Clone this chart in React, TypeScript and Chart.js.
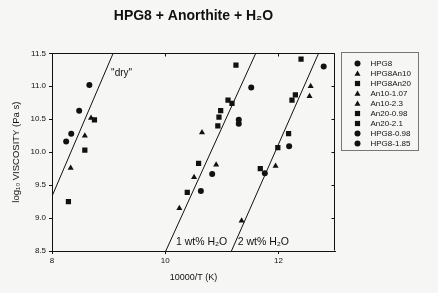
import React, { useEffect, useRef } from 'react';
import { Chart, registerables } from 'chart.js';

Chart.register(...registerables);

const FONT = "'Liberation Sans', Arial, Helvetica, sans-serif";

const TITLE = 'HPG8 + Anorthite + H₂O';
const X_TITLE = '10000/T (K)';
const Y_TITLE = 'log₁₀ VISCOSITY (Pa s)';

const SERIES_NAMES = ['HPG8', 'HPG8An10', 'HPG8An20', 'An10-1.07', 'An10-2.3', 'An20-0.98', 'An20-2.1', 'HPG8-0.98', 'HPG8-1.85'];
const SERIES_SHAPES = ['circle', 'triangle', 'rect', 'triangle', 'triangle', 'rect', 'rect', 'circle', 'circle'];

// dry
const HPG8_X = [8.25, 8.34, 8.48, 8.66];
const HPG8_Y = [10.16, 10.28, 10.63, 11.02];
const HPG8AN10_X = [8.33, 8.58, 8.69];
const HPG8AN10_Y = [9.76, 10.25, 10.52];
const HPG8AN20_X = [8.29, 8.58, 8.75];
const HPG8AN20_Y = [9.25, 10.03, 10.49];
// ~1 wt% H2O
const AN10_107_X = [10.25, 10.51, 10.65, 10.9];
const AN10_107_Y = [9.15, 9.62, 10.3, 9.81];
const AN20_098_X = [10.39, 10.59, 10.93, 10.95, 10.98, 11.11, 11.18, 11.25];
const AN20_098_Y = [9.39, 9.83, 10.4, 10.53, 10.63, 10.79, 10.74, 11.32];
const HPG8_098_X = [10.63, 10.83, 11.3, 11.3, 11.52];
const HPG8_098_Y = [9.41, 9.67, 10.49, 10.43, 10.98];
// ~2 wt% H2O
const AN10_23_X = [11.35, 11.95, 12.55, 12.57];
const AN10_23_Y = [8.96, 9.79, 10.85, 11.0];
const AN20_21_X = [11.68, 11.99, 12.18, 12.24, 12.3, 12.4];
const AN20_21_Y = [9.75, 10.07, 10.28, 10.79, 10.87, 11.41];
const HPG8_185_X = [11.76, 12.19, 12.8];
const HPG8_185_Y = [9.68, 10.09, 11.3];

const SERIES_X = [HPG8_X, HPG8AN10_X, HPG8AN20_X, AN10_107_X, AN10_23_X, AN20_098_X, AN20_21_X, HPG8_098_X, HPG8_185_X];
const SERIES_Y = [HPG8_Y, HPG8AN10_Y, HPG8AN20_Y, AN10_107_Y, AN10_23_Y, AN20_098_Y, AN20_21_Y, HPG8_098_Y, HPG8_185_Y];

// fitted lines
const DRY_LINE_X = [8.0, 9.08];
const DRY_LINE_Y = [9.33, 11.5];
const WT1_LINE_X = [10.01, 11.6];
const WT1_LINE_Y = [8.5, 11.5];
const WT2_LINE_X = [11.17, 12.71];
const WT2_LINE_Y = [8.5, 11.5];

// line labels (anchor in data units)
const LINE_LABELS = ['"dry"', '1 wt% H₂O', '2 wt% H₂O'];
const LINE_LABEL_X = [9.23, 10.19, 11.28];
const LINE_LABEL_Y = [11.19, 8.64, 8.64];
const LINE_LABEL_ALIGN: CanvasTextAlign[] = ['center', 'left', 'left'];

const X_MIN = 8, X_MAX = 13, X_STEP = 2;
const Y_MIN = 8.5, Y_MAX = 11.5, Y_STEP = 0.5;

const INK = '#111';

function drawShape(ctx: CanvasRenderingContext2D, shape: string, x: number, y: number) {
  ctx.beginPath();
  if (shape === 'circle') {
    ctx.arc(x, y, 3, 0, Math.PI * 2);
  } else if (shape === 'triangle') {
    const r = 3.5;
    for (let i = 0; i < 3; i++) {
      const a = (i * 2 * Math.PI) / 3;
      const px = x + Math.sin(a) * r;
      const py = y - Math.cos(a) * r + 0.6;
      if (i === 0) ctx.moveTo(px, py); else ctx.lineTo(px, py);
    }
    ctx.closePath();
  } else {
    ctx.rect(x - 2.6, y - 2.6, 5.2, 5.2);
  }
  ctx.fill();
}

const decorPlugin = {
  id: 'decor',
  beforeDraw(chart: any) {
    const { ctx, width, height } = chart;
    ctx.save();
    ctx.fillStyle = '#f6f6f5';
    ctx.fillRect(0, 0, width, height);
    ctx.restore();
  },
  afterDatasetsDraw(chart: any) {
    const { ctx, chartArea: a, scales } = chart;
    ctx.save();
    ctx.strokeStyle = INK;
    ctx.lineWidth = 1;
    const l = Math.round(a.left) + 0.5, r = Math.round(a.right) - 0.5;
    const t = Math.round(a.top) + 0.5, b = Math.round(a.bottom) - 0.5;
    ctx.beginPath();
    ctx.moveTo(l, t); ctx.lineTo(r, t); ctx.lineTo(r, b);
    ctx.stroke();
    // inward ticks on right and top
    ctx.beginPath();
    scales.y.ticks.forEach((tk: any) => {
      const py = Math.round(scales.y.getPixelForValue(tk.value)) + 0.5;
      ctx.moveTo(r, py); ctx.lineTo(r - 3, py);
    });
    scales.x.ticks.forEach((tk: any) => {
      const px = Math.round(scales.x.getPixelForValue(tk.value)) + 0.5;
      ctx.moveTo(px, t); ctx.lineTo(px, t + 3);
    });
    ctx.stroke();

    // line labels
    ctx.fillStyle = INK;
    ctx.textBaseline = 'middle';
    LINE_LABELS.forEach((txt, i) => {
      ctx.font = i === 0 ? `10px ${FONT}` : `10.5px ${FONT}`;
      ctx.textAlign = LINE_LABEL_ALIGN[i];
      ctx.fillText(txt, scales.x.getPixelForValue(LINE_LABEL_X[i]), scales.y.getPixelForValue(LINE_LABEL_Y[i]));
    });
    ctx.restore();
  },
  afterDraw(chart: any) {
    const { ctx, chartArea: a } = chart;
    ctx.save();
    // legend box to the right of the plot
    const bx = Math.round(a.right) + 6.5;
    const by = Math.round(a.top) - 0.5;
    const bw = 77, bh = 98;
    ctx.strokeStyle = '#777';
    ctx.lineWidth = 1;
    ctx.strokeRect(bx, by, bw, bh);
    ctx.font = `8px ${FONT}`;
    ctx.textAlign = 'left';
    ctx.textBaseline = 'middle';
    ctx.fillStyle = INK;
    SERIES_NAMES.forEach((name, i) => {
      const y = by + 11 + i * 10;
      drawShape(ctx, SERIES_SHAPES[i], bx + 16, y);
      ctx.fillText(name, bx + 29, y + 0.5);
    });
    ctx.restore();
  },
};

export default function App() {
  const ref = useRef<HTMLCanvasElement | null>(null);
  useEffect(() => {
    if (!ref.current) return;
    Chart.defaults.font.family = FONT;
    Chart.defaults.color = INK;

    const scatterSets = SERIES_NAMES.map((name, i) => ({
      type: 'scatter' as const,
      label: name,
      data: SERIES_X[i].map((x, j) => ({ x, y: SERIES_Y[i][j] })),
      pointStyle: SERIES_SHAPES[i],
      pointRadius: SERIES_SHAPES[i] === 'circle' ? 3 : SERIES_SHAPES[i] === 'rect' ? 3.7 : 3.5,
      pointBackgroundColor: INK,
      pointBorderColor: INK,
      pointBorderWidth: 0,
      showLine: false,
    }));
    const lineSet = (label: string, xs: number[], ys: number[]) => ({
      type: 'line' as const,
      label,
      data: xs.map((x, j) => ({ x, y: ys[j] })),
      borderColor: INK,
      borderWidth: 1,
      pointRadius: 0,
      fill: false,
    });

    const chart = new Chart(ref.current, {
      type: 'scatter',
      data: {
        datasets: [
          ...scatterSets,
          lineSet('dry', DRY_LINE_X, DRY_LINE_Y),
          lineSet('1 wt%', WT1_LINE_X, WT1_LINE_Y),
          lineSet('2 wt%', WT2_LINE_X, WT2_LINE_Y),
        ] as any,
      },
      options: {
        responsive: false,
        animation: false,
        events: [],
        layout: { padding: { left: 0, right: 103, top: 0, bottom: 0 } },
        plugins: {
          legend: { display: false },
          tooltip: { enabled: false },
          title: {
            display: true,
            text: TITLE,
            fullSize: false,
            color: INK,
            font: { size: 14, weight: 'bold', family: FONT },
            padding: { top: 8, bottom: 28.5 },
          },
        },
        scales: {
          x: {
            type: 'linear',
            position: 'bottom',
            min: X_MIN,
            max: X_MAX,
            afterFit: (s: any) => { s.height = 42; },
            afterBuildTicks: (s: any) => { s.ticks = s.ticks.filter((t: any) => Math.abs((t.value - X_MIN) % X_STEP) < 1e-6); },
            ticks: { stepSize: X_STEP, font: { size: 8 }, padding: 2, color: INK, maxRotation: 0 },
            grid: { drawOnChartArea: false, drawTicks: true, tickLength: 3, color: INK },
            border: { display: true, color: INK, width: 1 },
            title: { display: true, text: X_TITLE, font: { size: 9 }, color: INK, padding: { top: 0, bottom: 10.5 } },
          },
          y: {
            type: 'linear',
            position: 'left',
            min: Y_MIN,
            max: Y_MAX,
            afterFit: (s: any) => { s.width = 52; },
            ticks: { stepSize: Y_STEP, font: { size: 8 }, padding: 3, color: INK, callback: (v: any) => Number(v).toFixed(1) },
            grid: { drawOnChartArea: false, drawTicks: true, tickLength: 3, color: INK },
            border: { display: true, color: INK, width: 1 },
            title: { display: true, text: Y_TITLE, font: { size: 9.5 }, color: INK, padding: { top: 11, bottom: 0 } },
          },
        },
      },
      plugins: [decorPlugin],
    } as any);
    return () => chart.destroy();
  }, []);

  return (
    <div style={{ position: 'fixed', left: 0, top: 0, width: 438, height: 293 }}>
      <canvas ref={ref} width={438} height={293} style={{ display: 'block' }} />
    </div>
  );
}
